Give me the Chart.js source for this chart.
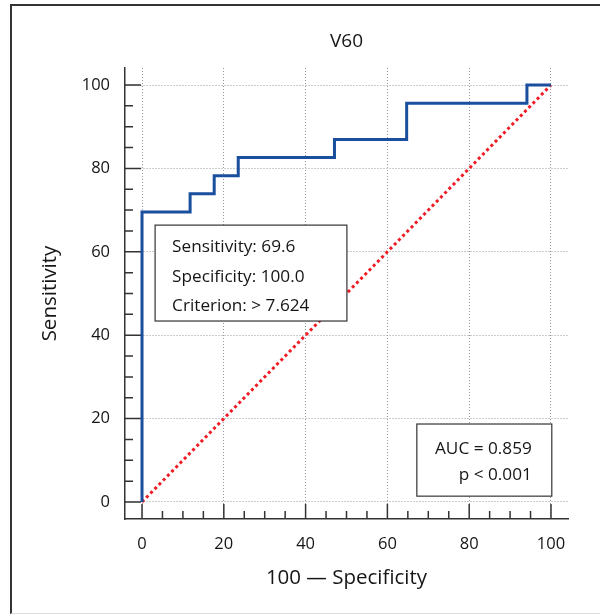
<!DOCTYPE html>
<html>
<head>
<meta charset="utf-8">
<script src="https://cdn.jsdelivr.net/npm/chart.js@4/dist/chart.umd.min.js"></script>
<style>
  body { margin: 0; background: #fff; }
  #wrap { position: relative; width: 600px; height: 616px; }
  #frame { position: absolute; left: 10px; top: 4px; width: 590px; height: 610px;
           border-left: 2px solid #333; border-top: 2px solid #333; border-bottom: 1px solid #ddd; box-sizing: border-box; }
  canvas { position: absolute; left: 0; top: 0; }
</style>
</head>
<body>
<div id="wrap">
  <div id="frame"></div>
  <canvas id="chart" width="600" height="616"></canvas>
</div>
<script>
// ROC points (100 - specificity, sensitivity)
const rocX = [0, 0, 11.76, 17.65, 23.53, 47.06, 64.71, 94.12, 100];
const rocY = [0, 69.57, 73.91, 78.26, 82.61, 86.96, 95.65, 100, 100];
const refX = [0, 100];
const refY = [0, 100];
const majorTicks = [0, 20, 40, 60, 80, 100];
const minorTicks = [5, 10, 15, 25, 30, 35, 45, 50, 55, 65, 70, 75, 85, 90, 95];
const chartTitle = "V60";
const xTitle = "100 \u2014 Specificity";
const yTitle = "Sensitivity";
const statLines = ["Sensitivity: 69.6", "Specificity: 100.0", "Criterion: > 7.624"];
const aucLines = ["AUC = 0.859", "p < 0.001"];

const FONT = "'Open Sans', 'DejaVu Sans', sans-serif";
const INK = "#151515";

const toPts = (xs, ys) => xs.map((x, i) => ({ x: x, y: ys[i] }));

const extras = {
  id: "extras",
  beforeDatasetsDraw(chart) {
    const ctx = chart.ctx;
    const xs = chart.scales.x, ys = chart.scales.y;
    const a = chart.chartArea;
    ctx.save();
    ctx.strokeStyle = "#333";
    ctx.lineWidth = 1.5;
    ctx.beginPath();
    majorTicks.forEach(v => {
      const px = xs.getPixelForValue(v), py = ys.getPixelForValue(v);
      ctx.moveTo(px, a.bottom); ctx.lineTo(px, a.bottom - 15);
      ctx.moveTo(a.left, py); ctx.lineTo(a.left + 16, py);
    });
    minorTicks.forEach(v => {
      const px = xs.getPixelForValue(v), py = ys.getPixelForValue(v);
      ctx.moveTo(px, a.bottom); ctx.lineTo(px, a.bottom - 8);
      ctx.moveTo(a.left, py); ctx.lineTo(a.left + 8, py);
    });
    ctx.stroke();
    ctx.restore();
  },
  afterDatasetsDraw(chart) {
    const ctx = chart.ctx;
    const xs = chart.scales.x, ys = chart.scales.y;
    const a = chart.chartArea;
    ctx.save();
    // title
    ctx.fillStyle = INK;
    ctx.font = "19px " + FONT;
    ctx.textAlign = "center";
    ctx.textBaseline = "middle";
    ctx.fillText(chartTitle, (a.left + a.right) / 2, 42);

    // boxes
    const box = (x0, y0, x1, y1) => {
      const l = xs.getPixelForValue(x0), r = xs.getPixelForValue(x1);
      const t = ys.getPixelForValue(y0), b = ys.getPixelForValue(y1);
      ctx.fillStyle = "#fff";
      ctx.fillRect(l, t, r - l, b - t);
      ctx.strokeStyle = "#333";
      ctx.lineWidth = 1.2;
      ctx.strokeRect(l, t, r - l, b - t);
      return { l, r, t, b };
    };
    ctx.font = "17.2px " + FONT;
    const b1 = box(3.2, 66.4, 50.1, 43.4);
    ctx.fillStyle = INK;
    ctx.textAlign = "left";
    [247, 277, 306].forEach((y, i) => ctx.fillText(statLines[i], b1.l + 17, y));
    const b2 = box(67.2, 18.7, 100.2, 1.4);
    ctx.fillStyle = INK;
    ctx.textAlign = "right";
    [449, 475].forEach((y, i) => ctx.fillText(aucLines[i], b2.r - 20, y));
    ctx.restore();
  }
};

new Chart(document.getElementById("chart").getContext("2d"), {
  type: "scatter",
  data: {
    datasets: [
      {
        data: toPts(refX, refY),
        showLine: true,
        borderColor: "#ee1c25",
        borderWidth: 3,
        borderDash: [3, 3],
        pointRadius: 0,
        order: 2
      },
      {
        data: toPts(rocX, rocY),
        showLine: true,
        stepped: "before",
        borderColor: "#1a4f9e",
        borderWidth: 3,
        pointRadius: 0,
        order: 1
      }
    ]
  },
  options: {
    responsive: false,
    animation: false,
    layout: { padding: { top: 68, right: 32, left: 0, bottom: 0 } },
    plugins: { legend: { display: false }, tooltip: { enabled: false } },
    scales: {
      x: {
        type: "linear",
        min: -4.16,
        max: 104.16,
        afterBuildTicks: s => { s.ticks = majorTicks.map(v => ({ value: v })); },
        afterFit: s => { s.height = 97; },
        grid: { color: "#999", lineWidth: 1, drawTicks: false },
        border: { display: true, color: "#333", width: 1.5, dash: [1, 2] },
        ticks: { padding: 15, color: INK, font: { family: FONT, size: 16.5 } },
        title: { display: true, text: xTitle, color: INK, font: { family: FONT, size: 20.5 }, padding: { bottom: 26 } }
      },
      y: {
        type: "linear",
        min: -4.08,
        max: 104.08,
        afterBuildTicks: s => { s.ticks = majorTicks.map(v => ({ value: v })); },
        afterFit: s => { s.width = 125; },
        grid: { color: "#999", lineWidth: 1, drawTicks: false },
        border: { display: true, color: "#333", width: 1.5, dash: [1, 2] },
        ticks: { padding: 15, color: INK, font: { family: FONT, size: 16.5 } },
        title: { display: true, text: yTitle, color: INK, font: { family: FONT, size: 20.5 }, padding: { top: 38 } }
      }
    }
  },
  plugins: [extras]
});
</script>
</body>
</html>
